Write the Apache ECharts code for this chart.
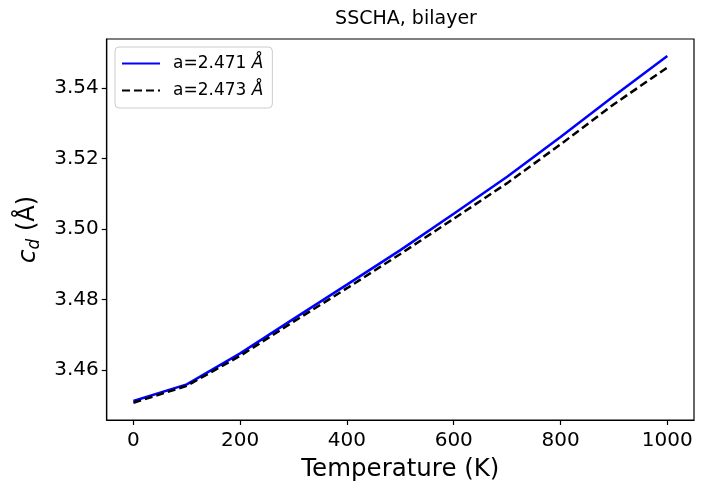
<!DOCTYPE html>
<html>
<head>
<meta charset="utf-8">
<script src="https://cdn.jsdelivr.net/npm/echarts@6/dist/echarts.min.js"></script>
<style>
html,body{margin:0;padding:0;background:#fff;}
#chart{width:706px;height:496px;}
</style>
</head>
<body>
<div id="chart"></div>
<script>
const temperature = [0, 100, 200, 300, 400, 500, 600, 700, 800, 900, 1000];
const cdA2471 = [3.4512, 3.4559, 3.4647, 3.4745, 3.4842, 3.4940, 3.5043, 3.5148, 3.5261, 3.5377, 3.5491];
const cdA2473 = [3.4507, 3.4555, 3.4640, 3.4737, 3.4832, 3.4929, 3.5029, 3.5130, 3.5240, 3.5354, 3.5458];
const seriesNames = ['a=2.471 Å', 'a=2.473 Å'];
const xTicks = [0, 200, 400, 600, 800, 1000];
const yTicks = [3.46, 3.48, 3.50, 3.52, 3.54];

const FONT = 'DejaVu Sans';
const chart = echarts.init(document.getElementById('chart'), null, {renderer: 'canvas'});
chart.setOption({
  animation: false,
  backgroundColor: '#fff',
  title: {
    text: 'SSCHA, bilayer',
    left: 406,
    textAlign: 'center',
    top: 10,
    padding: 0,
    textStyle: {fontFamily: FONT, fontSize: 19, fontWeight: 'normal', color: '#000'}
  },
  grid: {
    left: 106.7, right: 12, top: 39, bottom: 76,
    show: true, borderColor: '#000', borderWidth: 1.2, backgroundColor: '#fff'
  },
  legend: {
    orient: 'vertical',
    left: 115, top: 47,
    padding: [8, 9, 9, 6],
    itemGap: 10,
    itemWidth: 38, itemHeight: 14,
    backgroundColor: '#fff',
    borderColor: '#cccccc', borderWidth: 1, borderRadius: 4,
    itemStyle: {opacity: 0},
    data: seriesNames,
    formatter: function (n) { return n.replace(' Å', ' {i|Å}'); },
    textStyle: {
      fontFamily: FONT, fontSize: 17, color: '#000', padding: [0, 0, 0, 8],
      rich: {i: {fontFamily: FONT, fontSize: 17, fontStyle: 'italic', color: '#000'}}
    }
  },
  xAxis: {
    type: 'value', min: -50, max: 1050,
    name: 'Temperature (K)', nameLocation: 'middle', nameGap: 37,
    nameTextStyle: {fontFamily: FONT, fontSize: 24.5, color: '#000'},
    axisLine: {show: true, onZero: false, lineStyle: {color: '#000', width: 1.2}},
    axisTick: {show: true, length: 5, lineStyle: {color: '#000', width: 1.2}, customValues: xTicks},
    axisLabel: {customValues: xTicks, margin: 11, fontFamily: FONT, fontSize: 20, color: '#000',
      formatter: function (v) { return String(v); }},
    splitLine: {show: false}
  },
  yAxis: {
    type: 'value', min: 3.4458, max: 3.5539,
    name: '{c|c}{d|d} (Å)', nameLocation: 'middle', nameGap: 64, nameRotate: 90,
    nameTextStyle: {
      fontFamily: FONT, fontSize: 24, color: '#000',
      rich: {
        c: {fontFamily: FONT, fontSize: 25, fontStyle: 'italic', color: '#000', lineHeight: 29},
        d: {fontFamily: FONT, fontSize: 17, fontStyle: 'italic', color: '#000', padding: [10, 0, 0, 0], verticalAlign: 'bottom'}
      }
    },
    axisLine: {show: true, onZero: false, lineStyle: {color: '#000', width: 1.2}},
    axisTick: {show: true, length: 5, lineStyle: {color: '#000', width: 1.2}, customValues: yTicks},
    axisLabel: {customValues: yTicks, margin: 8, fontFamily: FONT, fontSize: 20, color: '#000',
      formatter: function (v) { return v.toFixed(2); }},
    splitLine: {show: false}
  },
  series: [
    {
      name: seriesNames[0], type: 'line', symbol: 'none', showSymbol: false,
      data: temperature.map((t, i) => [t, cdA2471[i]]),
      lineStyle: {color: '#0000ff', width: 2.5, type: 'solid'},
      itemStyle: {color: '#0000ff'}
    },
    {
      name: seriesNames[1], type: 'line', symbol: 'none', showSymbol: false,
      data: temperature.map((t, i) => [t, cdA2473[i]]),
      lineStyle: {color: '#000000', width: 2.5, type: [8, 4]},
      itemStyle: {color: '#000000'}
    }
  ]
});
</script>
</body>
</html>
